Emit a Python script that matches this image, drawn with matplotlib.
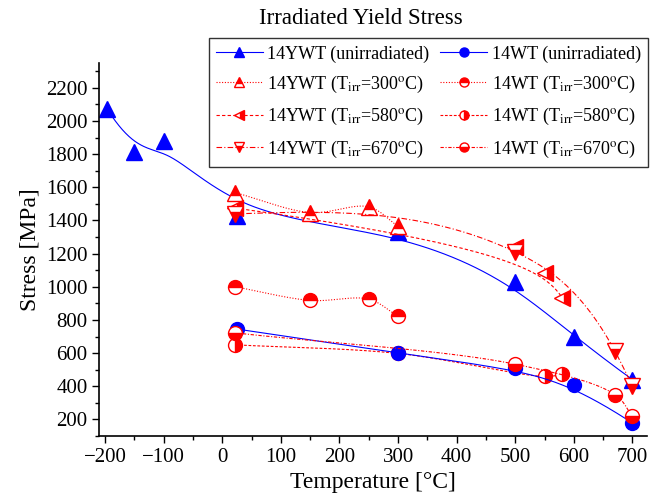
import numpy as np
import matplotlib
matplotlib.use("Agg")
import matplotlib.pyplot as plt

plt.rcParams['font.family'] = ['Liberation Serif', 'DejaVu Serif']
plt.rcParams['mathtext.fontset'] = 'stix'

# data
ywt_T = [-196, -150, -100, 25, 300, 500, 600, 700]
ywt_S = [2070, 1815, 1880, 1430, 1330, 1030, 695, 440]
wt_T = [25, 300, 500, 600, 700]
wt_S = [745, 600, 510, 408, 178]

ywt300_T = [22, 150, 250, 300]
ywt300_S = [1568, 1448, 1482, 1365]
ywt580_T = [22, 500, 550, 580]
ywt580_S = [1475, 1238, 1085, 935]
ywt670_T = [22, 500, 670, 700]
ywt670_S = [1440, 1210, 612, 400]

wt300_T = [22, 150, 250, 300]
wt300_S = [1000, 918, 925, 822]
wt580_T = [22, 300, 550, 580]
wt580_S = [650, 598, 459, 471]
wt670_T = [22, 500, 670, 700]
wt670_S = [722, 533, 350, 218]

# rough px per data unit, used so the curves bend as on screen
SX, SY = 0.5856, 0.166


def bspline(x, y, n=300, k=3):
    # clamped B-spline using the data as control points
    P = np.column_stack([x, y]).astype(float)
    m = len(P)
    k = min(k, m - 1)
    t = np.concatenate([np.zeros(k), np.linspace(0, 1, m - k + 1), np.ones(k)])
    u = np.linspace(0, 1, n)
    u[-1] -= 1e-9
    N = np.zeros((n, len(t) - 1))
    for i in range(len(t) - 1):
        N[:, i] = (t[i] <= u) & (u < t[i + 1])
    for p in range(1, k + 1):
        Nn = np.zeros((n, len(t) - 1 - p))
        for i in range(len(t) - 1 - p):
            a = 0
            b = 0
            if t[i + p] != t[i]:
                a = (u - t[i]) / (t[i + p] - t[i]) * N[:, i]
            if t[i + p + 1] != t[i + 1]:
                b = (t[i + p + 1] - u) / (t[i + p + 1] - t[i + 1]) * N[:, i + 1]
            Nn[:, i] = a + b
        N = Nn
    return N @ P[:, 0], N @ P[:, 1]


def natural(x, y, n=300):
    # natural cubic spline y(x)
    x = np.asarray(x, float)
    y = np.asarray(y, float)
    k = len(x)
    h = np.diff(x)
    A = np.zeros((k, k))
    r = np.zeros(k)
    A[0, 0] = A[-1, -1] = 1
    for i in range(1, k - 1):
        A[i, i - 1] = h[i - 1]
        A[i, i] = 2 * (h[i - 1] + h[i])
        A[i, i + 1] = h[i]
        r[i] = 3 * ((y[i + 1] - y[i]) / h[i] - (y[i] - y[i - 1]) / h[i - 1])
    c = np.linalg.solve(A, r)
    b = (y[1:] - y[:-1]) / h - h * (2 * c[:-1] + c[1:]) / 3
    d = (c[1:] - c[:-1]) / (3 * h)
    xs = np.linspace(x[0], x[-1], n)
    idx = np.clip(np.searchsorted(x, xs) - 1, 0, k - 2)
    dx = xs - x[idx]
    return xs, y[idx] + b[idx] * dx + c[idx] * dx ** 2 + d[idx] * dx ** 3


def spline(x, y, n=60, alpha=0.5):
    # centripetal Catmull-Rom through the points
    P = np.column_stack([np.asarray(x, float) * SX, np.asarray(y, float) * SY])
    pts = [2 * P[0] - P[1]] + list(P) + [2 * P[-1] - P[-2]]
    out = []
    for i in range(1, len(pts) - 2):
        p0, p1, p2, p3 = pts[i - 1], pts[i], pts[i + 1], pts[i + 2]
        t0 = 0.0
        t1 = t0 + np.linalg.norm(p1 - p0) ** alpha
        t2 = t1 + np.linalg.norm(p2 - p1) ** alpha
        t3 = t2 + np.linalg.norm(p3 - p2) ** alpha
        t = np.linspace(t1, t2, n)[:, None]
        A1 = (t1 - t) / (t1 - t0) * p0 + (t - t0) / (t1 - t0) * p1
        A2 = (t2 - t) / (t2 - t1) * p1 + (t - t1) / (t2 - t1) * p2
        A3 = (t3 - t) / (t3 - t2) * p2 + (t - t2) / (t3 - t2) * p3
        B1 = (t2 - t) / (t2 - t0) * A1 + (t - t0) / (t2 - t0) * A2
        B2 = (t3 - t) / (t3 - t1) * A2 + (t - t1) / (t3 - t1) * A3
        out.append((t2 - t) / (t2 - t1) * B1 + (t - t1) / (t2 - t1) * B2)
    out = np.vstack(out)
    return out[:, 0] / SX, out[:, 1] / SY


fig = plt.figure(figsize=(6.57, 5.0), dpi=100)
ax = fig.add_axes([0.151, 0.128, 0.834, 0.746])

blue = '#0000ff'
red = '#ff0000'

ls_dot = (0, (1, 1.5))
ls_dash = (0, (3, 2))
ls_dd = (0, (5, 2, 1, 2))
ls_sdash = (0, (2.5, 1.5))
ls_sdd = (0, (3, 1.5, 1, 1.5))

# WT 580 sits under the blue circles
ax.plot(*spline(wt580_T, wt580_S), color=red, lw=0.8, ls=ls_sdash)
ax.plot(wt580_T, wt580_S, 'o', ms=10, mfc=red, mec=red, mfcalt='white',
        fillstyle='right', mew=1.0)

# blue (unirradiated)
ax.plot(*bspline(ywt_T, ywt_S), color=blue, lw=0.8)
ax.plot(ywt_T, ywt_S, '^', color=blue, ms=11, mec=blue)
ax.plot(*bspline(wt_T, wt_S), color=blue, lw=0.8)
ax.plot(wt_T, wt_S, 'o', color=blue, ms=10, mec=blue)

series = [
    (ywt300_T, ywt300_S, '^', 'top', ls_dot, spline),
    (ywt580_T, ywt580_S, '<', 'right', ls_dash, bspline),
    (ywt670_T, ywt670_S, 'v', 'bottom', ls_dd, natural),
    (wt300_T, wt300_S, 'o', 'top', ls_dot, spline),
    (wt670_T, wt670_S, 'o', 'bottom', ls_sdd, spline),
]
for T, S, mk, fs, ls, curve in series:
    ax.plot(*curve(T, S), color=red, lw=0.8, ls=ls)
    ax.plot(T, S, mk, ms=11 if mk != 'o' else 10, mfc=red, mec=red,
            mfcalt='white', fillstyle=fs, mew=1.0)


def handle(mk, fs, ls, c):
    ms = 7.5 if mk != 'o' else 6.5
    if fs == 'full':
        return plt.Line2D([], [], color=c, lw=0.8, ls=ls, marker=mk, ms=ms, mfc=c, mec=c)
    return plt.Line2D([], [], color=c, lw=0.8, ls=ls, marker=mk, ms=ms, mfc=c, mec=c,
                      mfcalt='white', fillstyle=fs)


handles = [
    handle('^', 'full', '-', blue),
    handle('^', 'top', ls_dot, red),
    handle('<', 'right', ls_dash, red),
    handle('v', 'bottom', ls_dd, red),
    handle('o', 'full', '-', blue),
    handle('o', 'top', ls_dot, red),
    handle('o', 'right', ls_sdash, red),
    handle('o', 'bottom', ls_sdd, red),
]
labels = [
    '14YWT (unirradiated)',
    r'14YWT (T$_{\mathrm{irr}}$=300$^{\mathrm{o}}$C)',
    r'14YWT (T$_{\mathrm{irr}}$=580$^{\mathrm{o}}$C)',
    r'14YWT (T$_{\mathrm{irr}}$=670$^{\mathrm{o}}$C)',
    '14WT (unirradiated)',
    r'14WT (T$_{\mathrm{irr}}$=300$^{\mathrm{o}}$C)',
    r'14WT (T$_{\mathrm{irr}}$=580$^{\mathrm{o}}$C)',
    r'14WT (T$_{\mathrm{irr}}$=670$^{\mathrm{o}}$C)',
]
leg = ax.legend(handles, labels, ncol=2, loc='upper right', bbox_to_anchor=(1.002, 1.067),
                fontsize=13, frameon=True, fancybox=False, edgecolor='black',
                handlelength=2.6, handletextpad=0.25, columnspacing=0.6,
                labelspacing=0.62, borderpad=0.4, borderaxespad=0)
leg.get_frame().set_linewidth(1.0)

ax.set_xlim(-210, 725)
ax.set_ylim(100, 2350)
ax.set_xticks(np.arange(-200, 701, 100))
ax.set_xticks(np.arange(-200, 701, 50), minor=True)
ax.set_yticks(np.arange(200, 2201, 200))
ax.set_yticks(np.arange(100, 2301, 100), minor=True)
ax.tick_params(which='both', direction='out', width=1.0, labelsize=15)
ax.tick_params(which='major', length=5)
ax.tick_params(which='minor', length=3)
for s in ['top', 'right']:
    ax.spines[s].set_visible(False)
for s in ['left', 'bottom']:
    ax.spines[s].set_linewidth(1.2)

ax.set_xlabel('Temperature [°C]', fontsize=17)
ax.set_ylabel('Stress [MPa]', fontsize=17)
fig.text(0.55, 0.963, 'Irradiated Yield Stress', fontsize=16.5, ha='center', va='center')

fig.savefig('out.png', dpi=100)
